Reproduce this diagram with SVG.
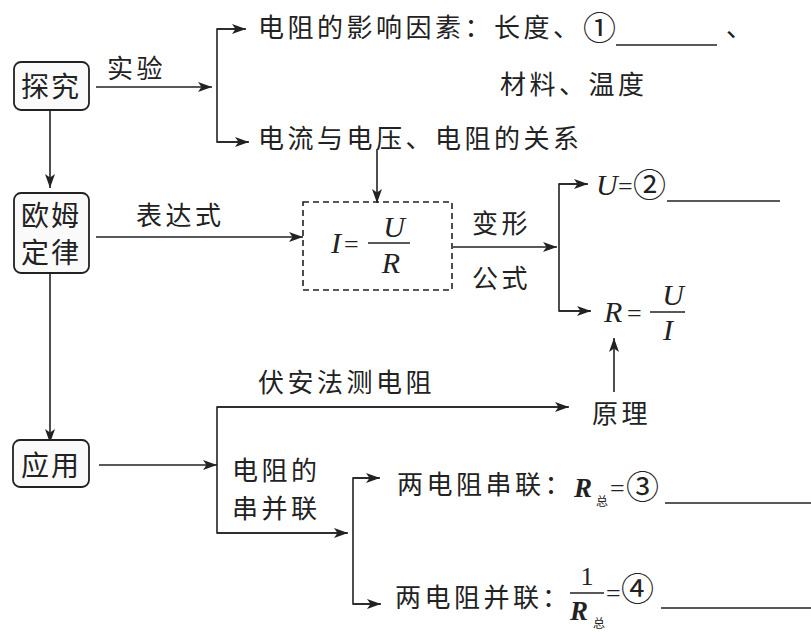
<svg xmlns="http://www.w3.org/2000/svg" width="811" height="632" viewBox="0 0 811 632">
<style>
.t{font-family:"Noto Sans CJK SC","Liberation Sans",sans-serif;font-size:26px;letter-spacing:3.5px;fill:#222}
.n{font-family:"Noto Sans CJK SC","Liberation Sans",sans-serif;font-size:28px;letter-spacing:2px;fill:#222}
.m{font-family:"Liberation Serif",serif;font-style:italic;font-size:30px;fill:#222}
.mb{font-family:"Liberation Serif",serif;font-style:italic;font-weight:bold;font-size:27px;fill:#222}
.eq{font-family:"Liberation Serif",serif;font-size:26px;fill:#222}
.c{font-family:"Noto Sans CJK SC","DejaVu Sans",sans-serif;font-size:33px;fill:#222}
.s{font-family:"Noto Sans CJK SC",sans-serif;font-size:12px;fill:#222}
.box{fill:#fafafa;stroke:#222;stroke-width:1.8}
.ln{fill:none;stroke:#222;stroke-width:1.6}
.ar{fill:none;stroke:#222;stroke-width:1.6;marker-end:url(#ah)}
.ul{stroke:#222;stroke-width:1.4}
</style>
<defs>
<marker id="ah" markerUnits="userSpaceOnUse" markerWidth="15" markerHeight="11" refX="14" refY="5.5" orient="auto">
<path d="M0,0.5 L14,5.5 L0,10.5 L3.5,5.5 z" fill="#222"/>
</marker>
</defs>
<rect width="811" height="632" fill="#fff"/>

<g id="connectors">
<line class="ar" x1="96" y1="87" x2="212" y2="87"/>
<polyline class="ln" points="245,29 217,29 217,142 248,142"/>
<line class="ar" x1="217" y1="29" x2="246" y2="29"/>
<line class="ar" x1="217" y1="142" x2="249" y2="142"/>
<line class="ar" x1="50" y1="110" x2="50" y2="188"/>
<line class="ar" x1="96" y1="237" x2="303" y2="237"/>
<line class="ar" x1="377" y1="149" x2="377" y2="203"/>
<line class="ar" x1="453" y1="247" x2="557" y2="247"/>
<polyline class="ln" points="587,184 559,184 559,311 590,311"/>
<line class="ar" x1="559" y1="184" x2="588" y2="184"/>
<line class="ar" x1="559" y1="311" x2="591" y2="311"/>
<line class="ar" x1="614" y1="392" x2="614" y2="338"/>
<line class="ar" x1="50" y1="273" x2="50" y2="443"/>
<line class="ar" x1="99" y1="465" x2="217" y2="465"/>
<polyline class="ln" points="568,407 217,407 217,533 347,533"/>
<line class="ar" x1="217" y1="407" x2="569" y2="407"/>
<line class="ar" x1="217" y1="533" x2="348" y2="533"/>
<polyline class="ln" points="379,478 353,478 353,604 380,604"/>
<line class="ar" x1="353" y1="478" x2="380" y2="478"/>
<line class="ar" x1="353" y1="604" x2="381" y2="604"/>
</g>

<g id="n-tanjiu">
<rect class="box" x="14" y="62" width="75" height="48" rx="7"/>
<text class="n" x="21" y="97">探究</text>
</g>
<g id="n-oumu">
<rect class="box" x="14" y="193" width="75" height="80" rx="7"/>
<text class="n" x="21" y="226">欧姆</text>
<text class="n" x="21" y="263">定律</text>
</g>
<g id="n-yingyong">
<rect class="box" x="13" y="440" width="76" height="47" rx="7"/>
<text class="n" x="21" y="476">应用</text>
</g>

<g id="l-shiyan"><text class="t" x="107" y="78">实验</text></g>
<g id="n-yingxiang">
<text class="t" x="258" y="37">电阻的影响因素：长度、</text>
<text class="c" x="583" y="40">①</text>
<line class="ul" x1="616" y1="45" x2="717" y2="45"/>
<text class="t" x="726" y="37">、</text>
<text class="t" x="500" y="94">材料、温度</text>
</g>
<g id="n-guanxi"><text class="t" x="258" y="148">电流与电压、电阻的关系</text></g>
<g id="l-biaodashi"><text class="t" x="136" y="225">表达式</text></g>
<g id="n-formula">
<rect x="303" y="202" width="149" height="88" fill="none" stroke="#222" stroke-width="1.6" stroke-dasharray="6,4"/>
<text class="m" x="331" y="253">I</text>
<text class="eq" x="344" y="253">=</text>
<line class="ul" x1="368" y1="243" x2="410" y2="243"/>
<text class="m" x="394" y="237" text-anchor="middle">U</text>
<text class="m" x="391" y="273" text-anchor="middle">R</text>
</g>
<g id="l-bianxing">
<text class="t" x="472" y="233">变形</text>
<text class="t" x="472" y="288">公式</text>
</g>
<g id="n-u">
<text class="m" x="596" y="195">U</text>
<text class="eq" x="618" y="195">=</text>
<text class="c" x="633" y="197">②</text>
<line class="ul" x1="667" y1="201" x2="780" y2="201"/>
</g>
<g id="n-r">
<text class="m" x="604" y="322">R</text>
<text class="eq" x="627" y="322">=</text>
<line class="ul" x1="650" y1="312" x2="685" y2="312"/>
<text class="m" x="673" y="305" text-anchor="middle">U</text>
<text class="m" x="668" y="340" text-anchor="middle">I</text>
</g>
<g id="n-yuanli"><text class="t" x="592" y="423">原理</text></g>
<g id="l-fuan"><text class="t" x="258" y="392">伏安法测电阻</text></g>
<g id="n-chuanbing">
<text class="t" x="232" y="480">电阻的</text>
<text class="t" x="232" y="518">串并联</text>
</g>
<g id="n-chuan">
<text class="t" x="397" y="494">两电阻串联：</text>
<text class="mb" x="574" y="497">R</text>
<text class="s" x="596" y="506">总</text>
<text class="eq" x="610" y="497">=</text>
<text class="c" x="626" y="499">③</text>
<line class="ul" x1="665" y1="503" x2="811" y2="503"/>
</g>
<g id="n-bing">
<text class="t" x="395" y="607">两电阻并联</text>
<text class="t" x="542" y="607" letter-spacing="0">：</text>
<text class="eq" x="587" y="585" font-size="22" text-anchor="middle">1</text>
<line class="ul" x1="570" y1="593" x2="604" y2="593"/>
<text class="mb" x="570" y="620">R</text>
<text class="s" x="593" y="628">总</text>
<text class="eq" x="606" y="602">=</text>
<text class="c" x="621" y="601">④</text>
<line class="ul" x1="661" y1="608" x2="811" y2="608"/>
</g>
</svg>
